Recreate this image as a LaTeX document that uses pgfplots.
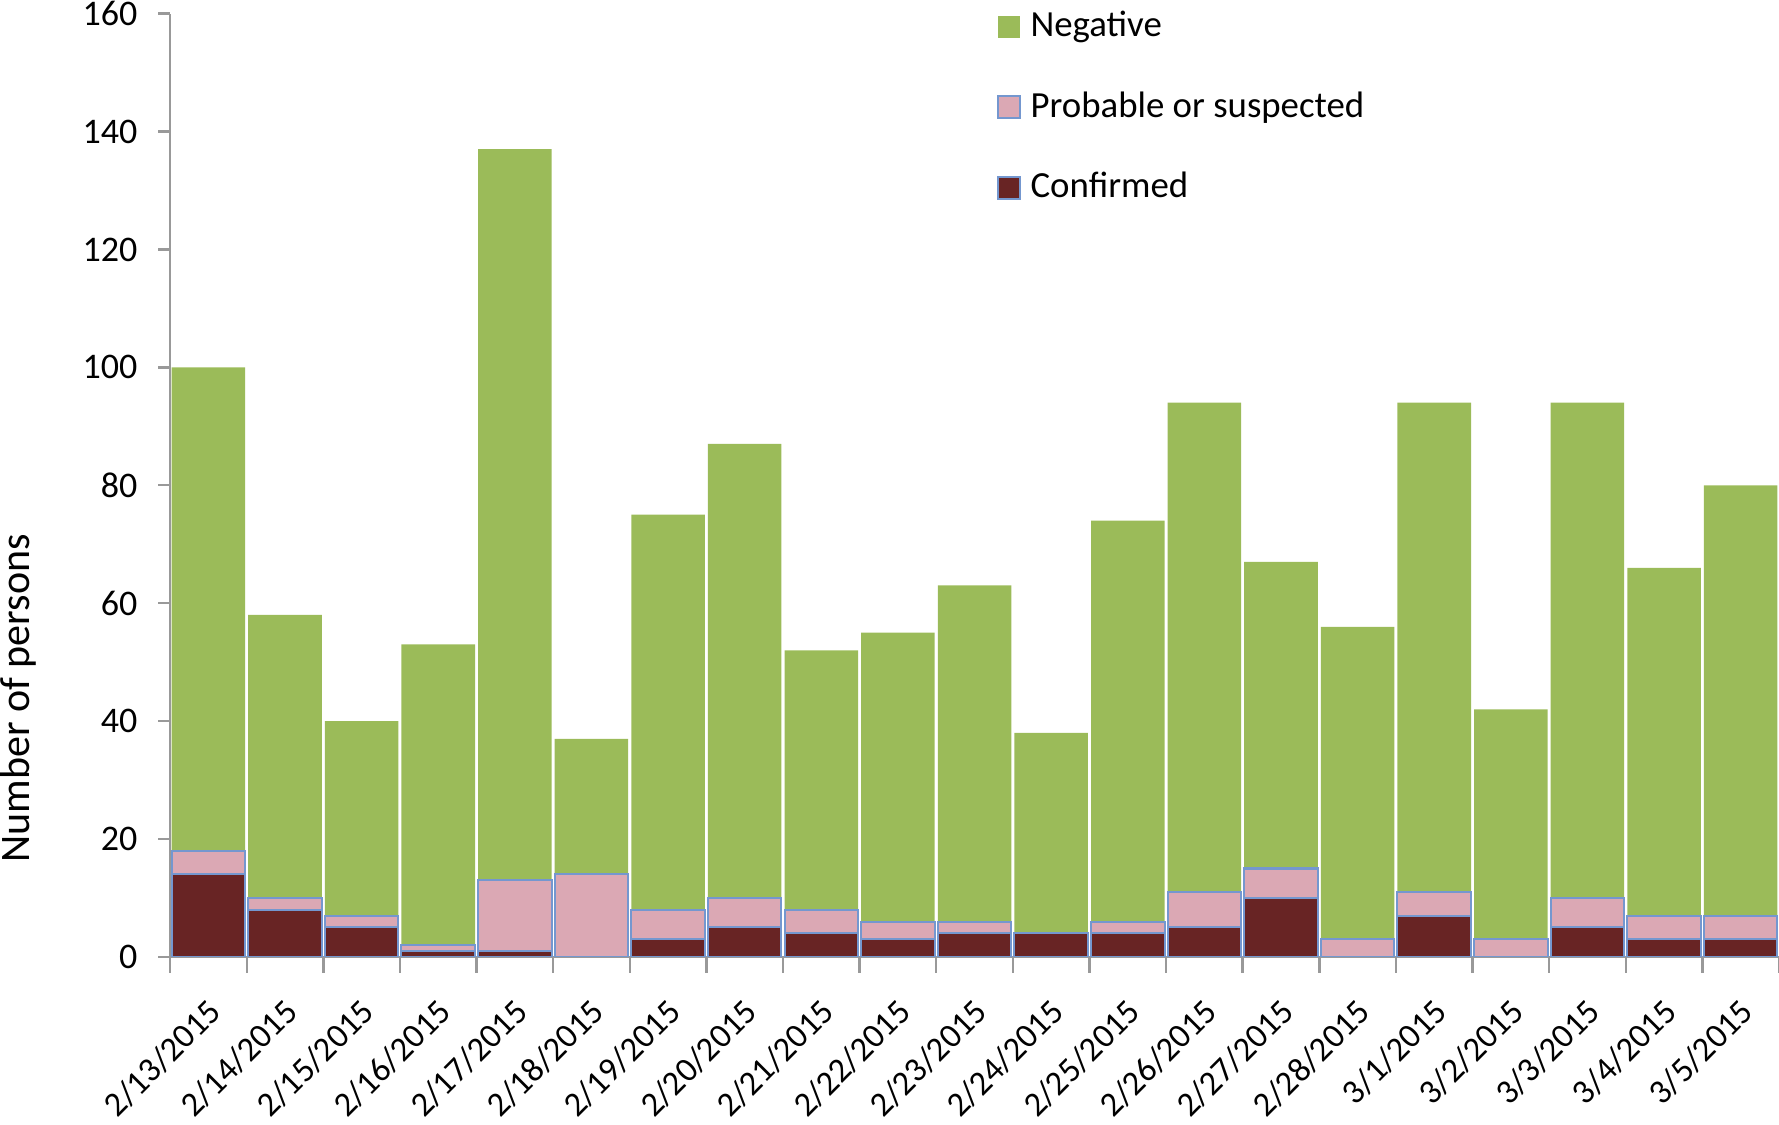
\documentclass[border=0pt]{standalone}
\usepackage{pgfplots}
\usepackage{pgfplotstable}
\pgfplotsset{compat=1.18}
\usepackage{fontspec}
\setmainfont{Carlito}
\definecolor{neg}{HTML}{9BBB59}
\definecolor{prob}{HTML}{DBA8B4}
\definecolor{conf}{HTML}{682424}
\definecolor{edge}{HTML}{7497CF}
\pgfplotstableread{
x c p n
0 14 4 82
1 8 2 48
2 5 2 33
3 1 1 51
4 1 12 124
5 0 14 23
6 3 5 67
7 5 5 77
8 4 4 44
9 3 3 49
10 4 2 57
11 4 0 34
12 4 2 68
13 5 6 83
14 10 5 52
15 0 3 53
16 7 4 83
17 0 3 39
18 5 5 84
19 3 4 59
20 3 4 73
}\data
\begin{document}
\begin{tikzpicture}
\begin{axis}[
  name=ax,
  scale only axis, width=402pt, height=235.7pt,
  ybar stacked, bar width=0.96,
  xmin=-0.5, xmax=20.5, ymin=0, ymax=160,
  ytick={0,20,...,160},
  axis x line*=bottom, axis y line*=left,
  axis line style={-, draw=gray!80, line width=0.6pt},
  xtick={0,...,20},
  xticklabels={2/13/2015,2/14/2015,2/15/2015,2/16/2015,2/17/2015,2/18/2015,2/19/2015,2/20/2015,2/21/2015,2/22/2015,2/23/2015,2/24/2015,2/25/2015,2/26/2015,2/27/2015,2/28/2015,3/1/2015,3/2/2015,3/3/2015,3/4/2015,3/5/2015},
  xticklabel style={rotate=45, anchor=north east, inner sep=0pt, xshift=-5.16pt, yshift=-4.31pt, font=\fontsize{8.6}{10}\selectfont},
  yticklabel style={font=\fontsize{9}{10}\selectfont, inner sep=0pt, xshift=-5pt},
  x tick style={draw=none},
  y tick style={draw=gray!80, line width=0.6pt},
  major tick length=3pt,
  tick align=outside,
  extra x ticks={-0.5,0.5,...,20.5},
  extra x tick labels={},
  extra x tick style={major tick length=4pt, x tick style={draw=gray!80, line width=0.6pt}},
  ylabel={Number of persons},
  ylabel style={at={(rel axis cs:0,0.274)}, anchor=center, yshift=38pt, font=\fontsize{10.5}{12}\selectfont},
  /pgf/number format/assume math mode=true,
  reverse legend,
  legend cell align=left,
  legend image code/.code={\path[#1] (0pt,-2.75pt) rectangle (5.5pt,2.75pt);},
  legend style={at={(0.506,1.016)}, anchor=north west, draw=none, fill=none,
    row sep=10.2pt, column sep=1.4pt, font=\fontsize{9.2}{11}\selectfont, nodes={inner sep=1pt}},
]
\addplot[fill=conf, draw=edge, line width=0.5pt] table[x=x, y=c] {\data};
\addlegendentry{Confirmed}
\addplot[fill=prob, draw=edge, line width=0.5pt] table[x=x, y=p] {\data};
\addlegendentry{Probable or suspected}
\addplot[fill=neg, draw=none] table[x=x, y=n] {\data};
\addlegendentry{Negative}
\end{axis}
\pgfresetboundingbox
\path[use as bounding box] ([xshift=-42.5pt, yshift=-41.9pt]ax.south west) rectangle ([yshift=3.4pt]ax.north east);
\end{tikzpicture}
\end{document}
